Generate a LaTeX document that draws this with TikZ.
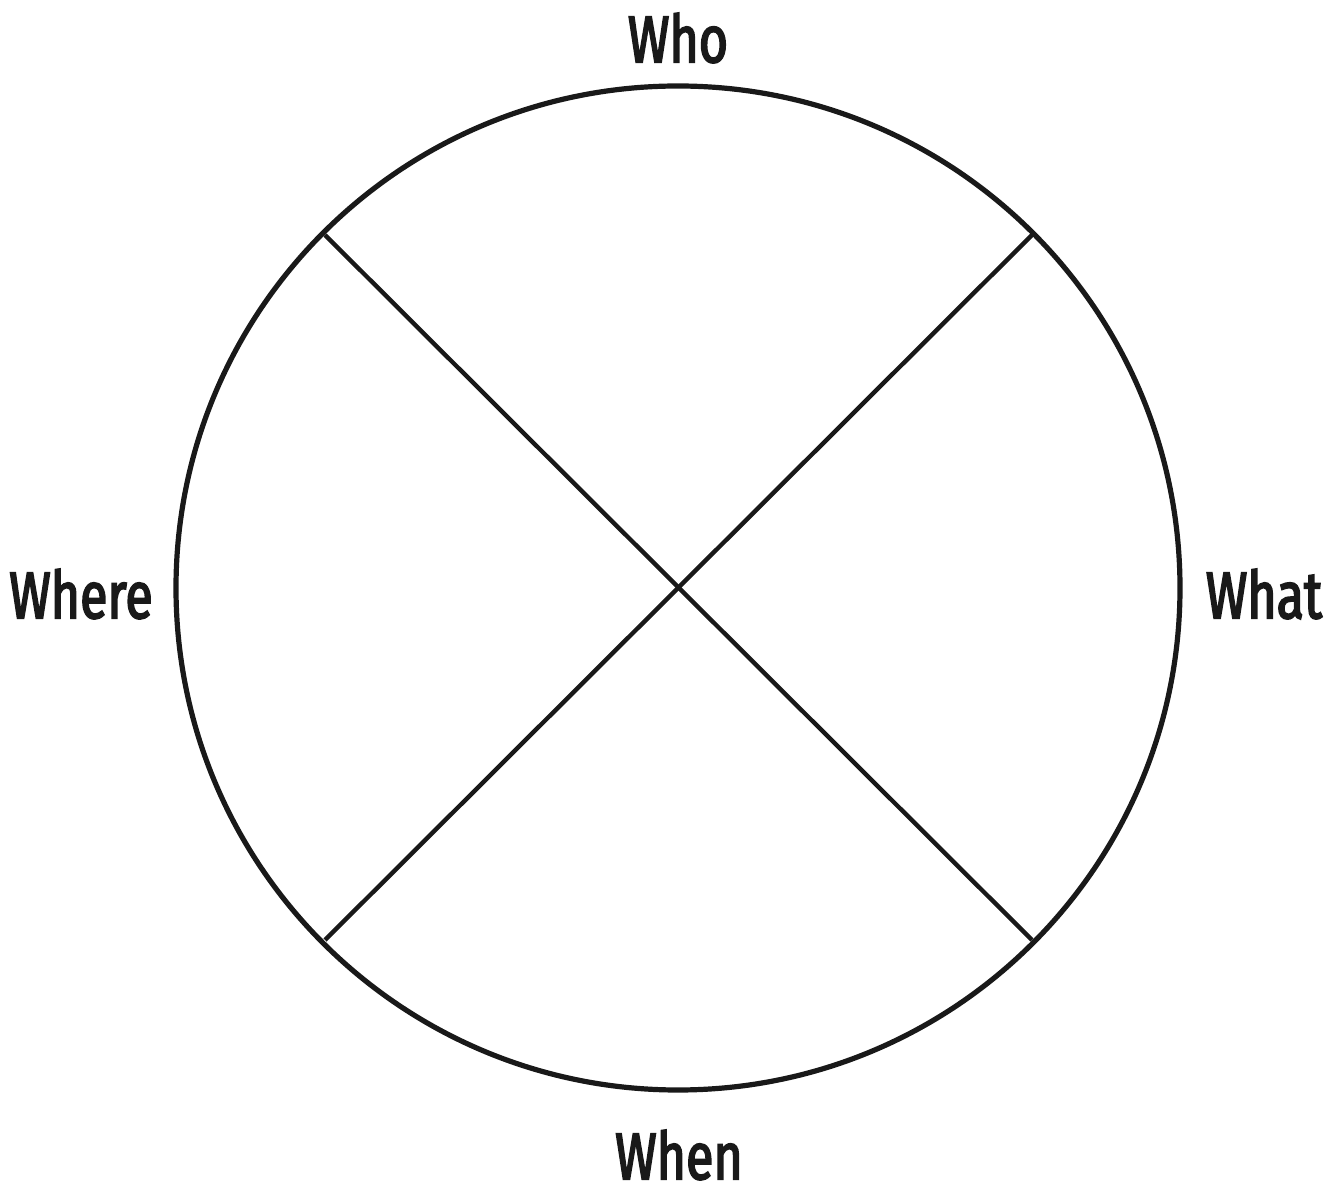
\documentclass[tikz,border=0pt]{standalone}
\usepackage{fontspec}
\newfontfamily\labfont[FakeStretch=0.76,FakeBold=2.6]{Fira Sans}
\begin{document}
\begin{tikzpicture}[x=0.5pt,y=-0.5pt,
  rim/.style={line width=2.6pt,draw=black!90},
  spoke/.style={line width=2.2pt,draw=black!90},
  lab/.style={font=\labfont\fontsize{33}{38}\selectfont,text=black!90,inner sep=0pt}]
\useasboundingbox (0,0) rectangle (1339,1186);
\coordinate (c) at (678,588);
\draw[rim] (c) circle[radius=502];
\coordinate (a) at (325,235);
\coordinate (b) at (1032,235);
\coordinate (d) at (1032,940);
\coordinate (e) at (325,940);
\draw[spoke] (a) -- (d);
\draw[spoke] (b) -- (e);
\node[lab] (who) at (678,38) {Who};
\node[lab] (where) at (81,594) {Where};
\node[lab] (what) at (1264,594) {What};
\node[lab] (when) at (679,1155) {When};
\end{tikzpicture}
\end{document}
